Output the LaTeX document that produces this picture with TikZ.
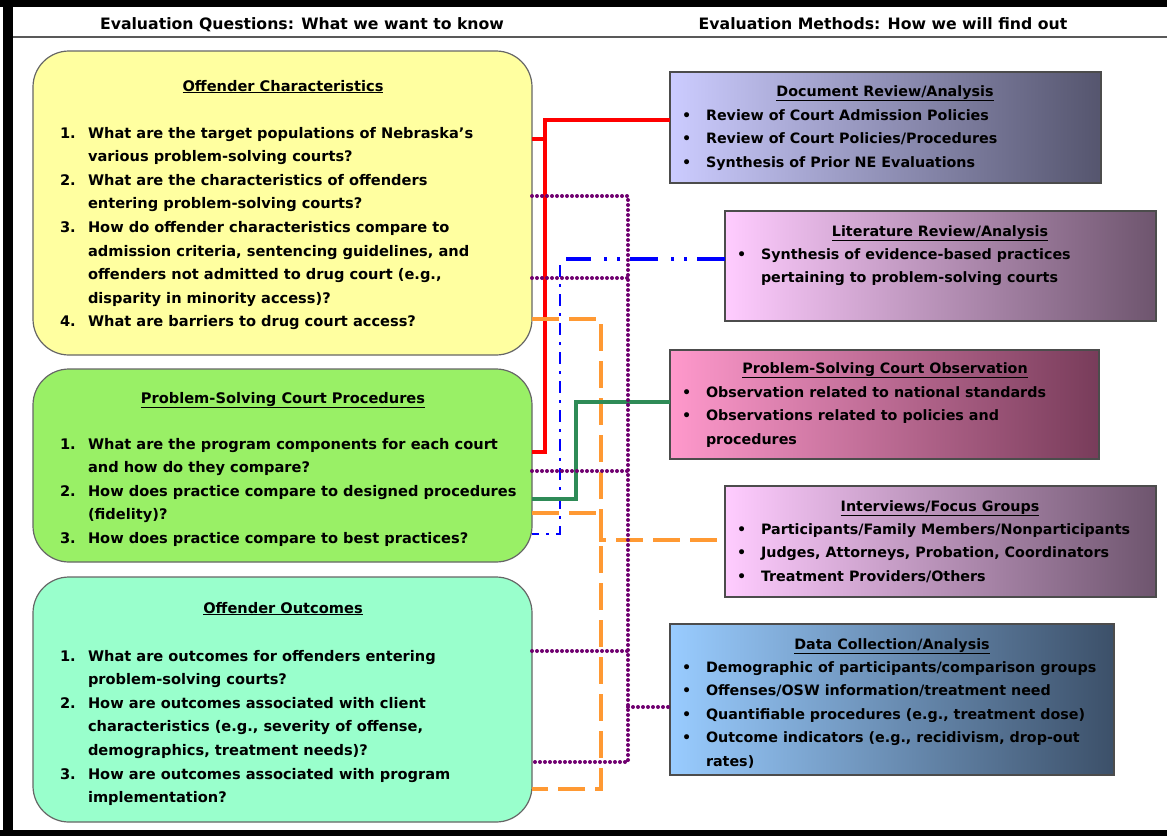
\documentclass[tikz,border=0pt]{standalone}
\usepackage{fontspec}
\setmainfont{DejaVu Sans}
\usetikzlibrary{calc}
\definecolor{qyellow}{RGB}{255,255,160}
\definecolor{qgreen}{RGB}{153,240,102}
\definecolor{qteal}{RGB}{153,255,204}
\definecolor{docL}{RGB}{204,204,255}
\definecolor{docR}{RGB}{85,85,110}
\definecolor{litL}{RGB}{255,204,255}
\definecolor{litR}{RGB}{110,85,110}
\definecolor{obsL}{RGB}{255,153,204}
\definecolor{obsR}{RGB}{120,60,90}
\definecolor{datL}{RGB}{153,204,255}
\definecolor{datR}{RGB}{60,80,105}
\definecolor{purp}{RGB}{112,0,112}
\definecolor{oran}{RGB}{255,153,51}
\definecolor{seag}{RGB}{46,139,87}
\newcommand\qlist[1]{{\setlength\tabcolsep{0pt}\begin{tabular}[t]{@{}p{28pt}@{}l@{}}#1\end{tabular}}}
\newcommand\blist[1]{{\setlength\tabcolsep{0pt}\begin{tabular}[t]{@{}p{24pt}@{}l@{}}#1\end{tabular}}}
\begin{document}
\begin{tikzpicture}[x=1pt,y=-1pt,
  every node/.style={font=\fontsize{14.3}{23.5}\selectfont\bfseries, inner sep=0pt, outer sep=0pt},
  lefttext/.style={font=\fontsize{14.6}{23.6}\selectfont\bfseries},
  hdr/.style={anchor=base, font=\fontsize{15.7}{20}\selectfont\bfseries},
  qbox/.style={draw=black!60, line width=1.2pt, rounded corners=36pt, minimum width=499pt},
  mbox/.style={draw=black!70, line width=1.5pt},
  txt/.style={anchor=base west, align=left},
  ttl/.style={anchor=base},
  redc/.style={draw=red, line width=3.5pt},
  purc/.style={draw=purp, line width=4pt, dash pattern=on 0pt off 5pt, line cap=round},
  bluec/.style={draw=blue, line width=3.5pt, dash pattern=on 28pt off 10pt on 3pt off 10pt on 3pt off 13pt},
  bluet/.style={draw=blue, line width=2pt, dash pattern=on 12pt off 7pt on 3pt off 7pt},
  grnc/.style={draw=seag, line width=3.5pt},
  orac/.style={draw=oran, line width=3.5pt, dash pattern=on 27pt off 10pt}]
\useasboundingbox (0,0) rectangle (1167,836);
\fill[white] (0,0) rectangle (1167,836);
% frame
\fill[black] (0,0) rectangle (1167,7);
\fill[black] (3,0) rectangle (13,836);
\fill[black] (0,830) rectangle (1167,836);
\draw[black!65, line width=1.5pt] (13,37) -- (1167,37);
\node[hdr] (h1) at (302,29) {Evaluation Questions: What we want to know};
\node[hdr] (h2) at (883,29) {Evaluation Methods: How we will find out};
% left boxes
\node[qbox, fill=qyellow, minimum height=304pt] (oc) at (282.5,203) {};
\node[qbox, fill=qgreen, minimum height=193pt] (pc) at (282.5,465.5) {};
\node[qbox, fill=qteal, minimum height=245pt] (ot) at (282.5,699.5) {};
% right boxes
\node[mbox, left color=docL, right color=docR, minimum width=431pt, minimum height=111pt] (doc) at (885.5,127.5) {};
\node[mbox, left color=litL, right color=litR, minimum width=431pt, minimum height=110pt] (lr) at (940.5,266) {};
\node[mbox, left color=obsL, right color=obsR, minimum width=429pt, minimum height=109pt] (ob) at (884.5,404.5) {};
\node[mbox, left color=litL, right color=litR, minimum width=431pt, minimum height=111pt] (iv) at (940.5,541.5) {};
\node[mbox, left color=datL, right color=datR, minimum width=444pt, minimum height=151pt] (dc) at (892,699.5) {};
% left texts
\node[ttl, lefttext] (oct) at (283,91) {\underline{Offender Characteristics}};
\node[txt, lefttext] (ocl) at (60,138) {\qlist{1. & What are the target populations of Nebraska's\\
 & various problem-solving courts?\\
2. & What are the characteristics of offenders\\
 & entering problem-solving courts?\\
3. & How do offender characteristics compare to\\
 & admission criteria, sentencing guidelines, and\\
 & offenders not admitted to drug court (e.g.,\\
 & disparity in minority access)?\\
4. & What are barriers to drug court access?}};
\node[ttl, lefttext] (pct) at (283,403) {\underline{Problem-Solving Court Procedures}};
\node[txt, lefttext] (pcl) at (60,449) {\qlist{1. & What are the program components for each court\\
 & and how do they compare?\\
2. & How does practice compare to designed procedures\\
 & (fidelity)?\\
3. & How does practice compare to best practices?}};
\node[ttl, lefttext] (ott) at (283,613) {\underline{Offender Outcomes}};
\node[txt, lefttext] (otl) at (60,661) {\qlist{1. & What are outcomes for offenders entering\\
 & problem-solving courts?\\
2. & How are outcomes associated with client\\
 & characteristics (e.g., severity of offense,\\
 & demographics, treatment needs)?\\
3. & How are outcomes associated with program\\
 & implementation?}};
% right texts
\node[ttl] (doct) at (885,96) {\underline{Document Review/Analysis}};
\node[txt] (docl) at (682,120) {\blist{• & Review of Court Admission Policies\\
• & Review of Court Policies/Procedures\\
• & Synthesis of Prior NE Evaluations}};
\node[ttl] (lrt) at (940,236) {\underline{Literature Review/Analysis}};
\node[txt] (lrl) at (737,259) {\blist{• & Synthesis of evidence-based practices\\
 & pertaining to problem-solving courts}};
\node[ttl] (obt) at (885,373) {\underline{Problem-Solving Court Observation}};
\node[txt] (obl) at (682,397) {\blist{• & Observation related to national standards\\
• & Observations related to policies and\\
 & procedures}};
\node[ttl] (ivt) at (940,511) {\underline{Interviews/Focus Groups}};
\node[txt] (ivl) at (737,534) {\blist{• & Participants/Family Members/Nonparticipants\\
• & Judges, Attorneys, Probation, Coordinators\\
• & Treatment Providers/Others}};
\node[ttl] (dct) at (892,649) {\underline{Data Collection/Analysis}};
\node[txt] (dcl) at (682,672) {\blist{• & Demographic of participants/comparison groups\\
• & Offenses/OSW information/treatment need\\
• & Quantifiable procedures (e.g., treatment dose)\\
• & Outcome indicators (e.g., recidivism, drop-out\\
 & rates)}};
% junction coordinates
\coordinate (rj) at (545,120);
\coordinate (ry) at (545,139);
\coordinate (rb) at (545,452);
\coordinate (p1) at (628,196);
\coordinate (p2) at (628,278);
\coordinate (p3) at (628,471);
\coordinate (p4) at (628,651);
\coordinate (p5) at (628,707);
\coordinate (p6) at (628,762);
\coordinate (b1) at (566,259);
\coordinate (b0) at (560,265);
\coordinate (b2) at (560,534);
\coordinate (g1) at (576,402);
\coordinate (g2) at (576,499);
\coordinate (o1) at (601,319);
\coordinate (o2) at (601,789);
\coordinate (o3) at (601,513);
\coordinate (o4) at (601,540);
% connectors
\draw[redc] (doc.west |- rj) -- (rj) -- (rb) -- (rb -| pc.east);
\draw[redc] (ry -| oc.east) -- (ry);
\draw[orac] (o1 -| oc.east) -- (o1) -- (o2) -- (o2 -| ot.east);
\draw[orac] (o3 -| pc.east) -- (o3) -- (o4) -- (o4 -| iv.west);
\draw[bluec] (lr.west |- b1) -- (b1);
\draw[bluet] (b0) -- (b2) -- (b2 -| pc.east);
\draw[grnc] (ob.west |- g1) -- (g1) -- (g2) -- (g2 -| pc.east);
\draw[purc] (p1 -| oc.east) -- (p1) -- (p6) -- (p6 -| ot.east);
\draw[purc] (p2 -| oc.east) -- (p2);
\draw[purc] (p3 -| pc.east) -- (p3);
\draw[purc] (p4 -| ot.east) -- (p4);
\draw[purc] (p5) -- (p5 -| dc.west);
\end{tikzpicture}
\end{document}
